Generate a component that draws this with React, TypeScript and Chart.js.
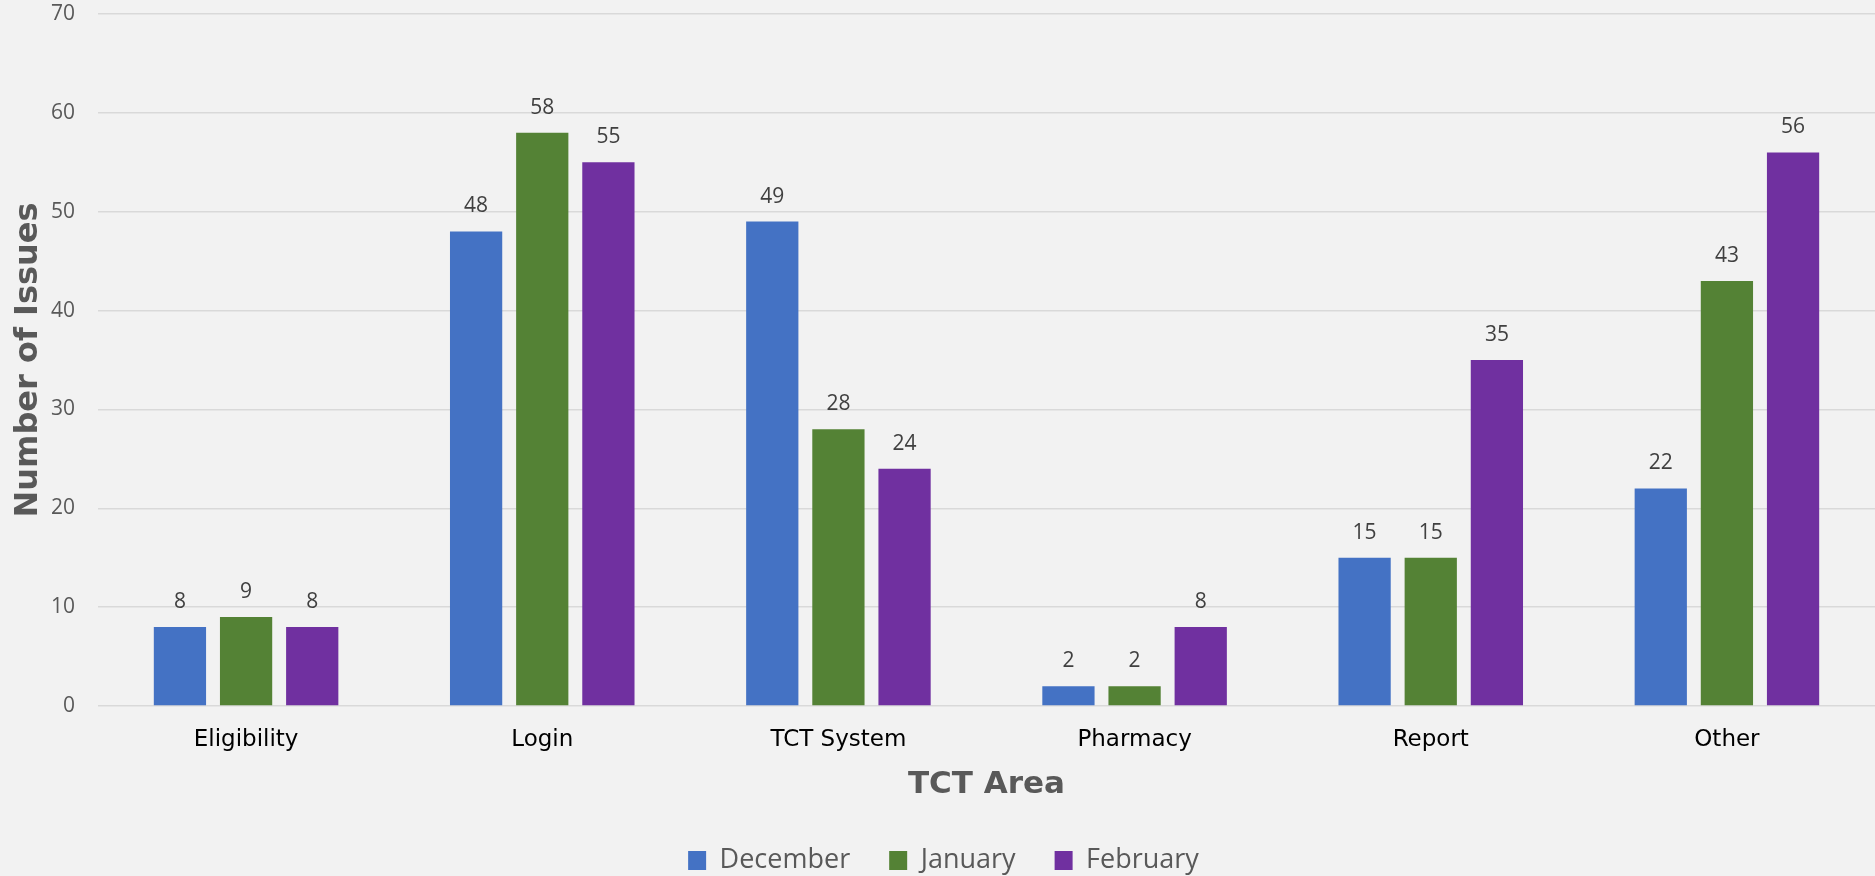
import React, { useEffect, useRef } from "react";
import { Chart, registerables } from "chart.js";

Chart.register(...registerables);

const categories = ["Eligibility", "Login", "TCT System", "Pharmacy", "Report", "Other"];
const december = [8, 48, 49, 2, 15, 22];
const january = [9, 58, 28, 2, 15, 43];
const february = [8, 55, 24, 8, 35, 56];
const seriesNames = ["December", "January", "February"];
const seriesColors = ["#4472C4", "#548235", "#7030A0"];
const yTicks = [0, 10, 20, 30, 40, 50, 60, 70];

const valueLabels = {
  id: "valueLabels",
  afterDatasetsDraw(chart: any) {
    const ctx = chart.ctx;
    ctx.save();
    ctx.font = "21px 'Open Sans'";
    ctx.fillStyle = "#404040";
    ctx.textAlign = "center";
    ctx.textBaseline = "middle";
    chart.data.datasets.forEach((ds: any, i: number) => {
      const meta = chart.getDatasetMeta(i);
      meta.data.forEach((bar: any, j: number) => {
        ctx.fillText(String(ds.data[j]), bar.x, bar.y - 25);
      });
    });
    ctx.restore();
  },
};

const legendShift = {
  id: "legendShift",
  afterLayout(chart: any) {
    const lg = chart.legend;
    if (!lg) return;
    lg.left += 6;
    lg.right += 6;
    lg.top += 8;
    lg.bottom += 8;
  },
};

export default function App() {
  const ref = useRef<HTMLCanvasElement | null>(null);
  useEffect(() => {
    document.body.style.margin = "0";
    document.body.style.background = "#f2f2f2";
    const chart = new Chart(ref.current as HTMLCanvasElement, {
      type: "bar",
      data: {
        labels: categories,
        datasets: [december, january, february].map((d, i) => ({
          label: seriesNames[i],
          data: d,
          backgroundColor: seriesColors[i],
          borderWidth: 0,
          categoryPercentage: 0.67,
          barPercentage: 0.79,
        })),
      },
      options: {
        animation: false,
        responsive: true,
        maintainAspectRatio: false,
        layout: { padding: { top: 14, right: 0, bottom: 0, left: 0 } },
        plugins: {
          tooltip: { enabled: false },
          legend: {
            position: "bottom",
            labels: {
              boxWidth: 18,
              boxHeight: 19,
              padding: 39,
              color: "#595959",
              font: { family: "'Open Sans'", size: 27 },
            },
          },
        },
        scales: {
          x: {
            grid: { display: false, drawTicks: false },
            border: { display: false },
            ticks: {
              color: "#000000",
              padding: 20,
              font: { family: "'DejaVu Sans'", size: 23 },
            },
            title: {
              display: true,
              text: "TCT Area",
              color: "#595959",
              font: { family: "'DejaVu Sans'", size: 31, weight: "bold", lineHeight: 1.0 },
              padding: { top: 0, bottom: 0 },
            },
            afterFit(scale: any) {
              scale.height = 94;
            },
          },
          y: {
            min: 0,
            max: 70,
            afterBuildTicks(scale: any) {
              scale.ticks = yTicks.map((v) => ({ value: v }));
            },
            grid: { color: "#d9d9d9", lineWidth: 1.5, drawTicks: false },
            border: { display: false },
            ticks: {
              color: "#595959",
              padding: 23,
              font: { family: "'Open Sans'", size: 21 },
            },
            title: {
              display: true,
              text: "Number of Issues",
              color: "#595959",
              font: { family: "'DejaVu Sans'", size: 32, weight: "bold" },
              padding: { top: 9, bottom: 0 },
            },
            afterFit(scale: any) {
              scale.width = 98;
              scale.paddingTop = 0;
              scale.paddingBottom = 0;
            },
          },
        },
      },
      plugins: [valueLabels, legendShift],
    });
    return () => chart.destroy();
  }, []);
  return (
    <div style={{ width: 1875, height: 876, position: "relative", background: "#f2f2f2" }}>
      <canvas ref={ref} />
    </div>
  );
}
